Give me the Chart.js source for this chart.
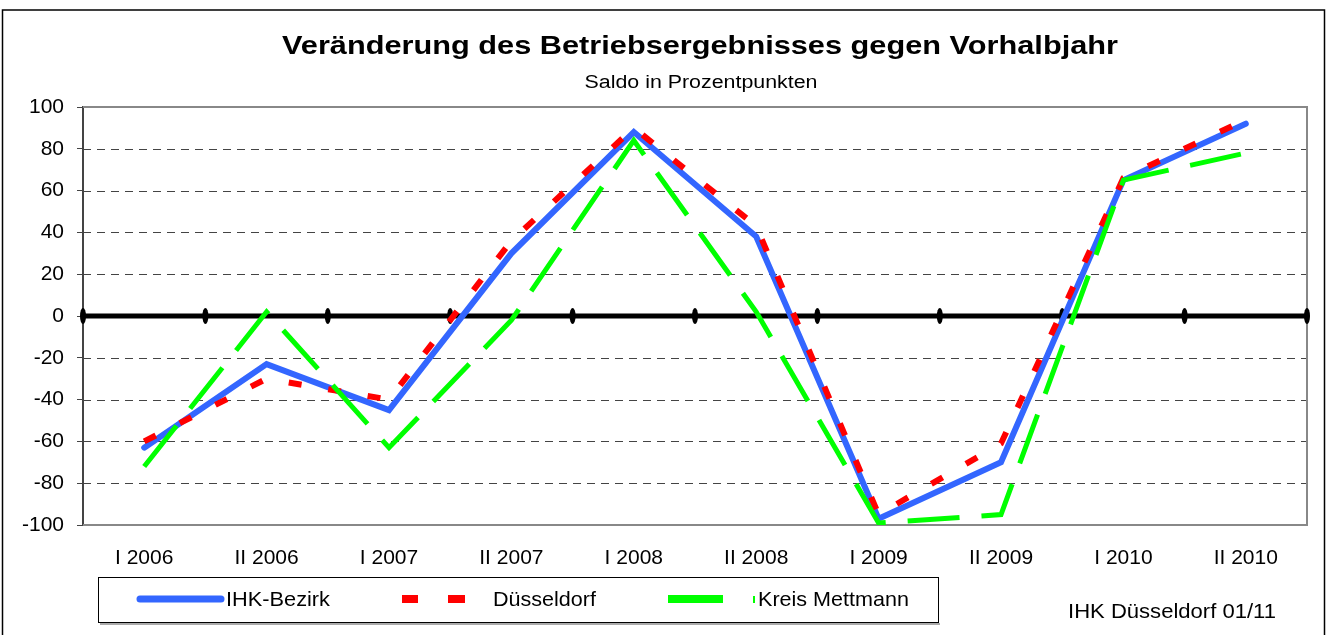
<!DOCTYPE html>
<html>
<head>
<meta charset="utf-8">
<script src="https://cdn.jsdelivr.net/npm/chart.js@4/dist/chart.umd.min.js"></script>
<style>
  body { margin: 0; background: #fff; }
  #wrap { width: 1329px; height: 635px; position: relative; }
</style>
</head>
<body>
<div id="wrap"><canvas id="chart" width="1329" height="635"></canvas></div>
<script>
const labels = ['I 2006', 'II 2006', 'I 2007', 'II 2007', 'I 2008', 'II 2008', 'I 2009', 'II 2009', 'I 2010', 'II 2010'];
const ihkBezirk = [-63, -23, -45, 30, 88, 38, -97, -70, 65, 92];
const duesseldorf = [-60, -30, -40, 36, 90, 43, -95, -61, 66, 94];
const kreisMettmann = [-72, 2, -63, -2, 84, 2, -99, -95, 65, 78];
const gridValues = [-80, -60, -40, -20, 20, 40, 60, 80];

const FONT = '"Liberation Sans", Arial, sans-serif';

// text stretched horizontally to a given width (the original font runs wider than Arial)
function wideText(ctx, text, x, y, font, width, align) {
    ctx.font = font;
    const w = ctx.measureText(text).width;
    const sx = width / w;
    const left = align === 'center' ? x - width / 2 : x;
    ctx.save();
    ctx.translate(left, y);
    ctx.scale(sx, 1);
    ctx.textAlign = 'left';
    ctx.textBaseline = 'middle';
    ctx.fillText(text, 0, 0);
    ctx.restore();
}

// draws frame, grid, zero axis, title, legend and footer
const decor = {
    id: 'decor',
    beforeDatasetsDraw(chart) {
        const { ctx, chartArea: a, scales: { y } } = chart;
        ctx.save();
        ctx.strokeStyle = '#444';
        ctx.lineWidth = 1;
        ctx.setLineDash([8, 6]);
        gridValues.forEach(v => {
            const py = Math.round(y.getPixelForValue(v)) + 0.5;
            ctx.beginPath();
            ctx.moveTo(a.left, py);
            ctx.lineTo(a.right, py);
            ctx.stroke();
        });
        ctx.setLineDash([]);
        ctx.strokeStyle = '#888';
        ctx.lineWidth = 2;
        ctx.beginPath();
        ctx.moveTo(a.left, a.top);
        ctx.lineTo(a.right, a.top);
        ctx.lineTo(a.right, a.bottom);
        ctx.lineTo(a.left, a.bottom);
        ctx.stroke();
        // zero axis with tick marks
        const y0 = y.getPixelForValue(0);
        ctx.strokeStyle = '#000';
        ctx.lineWidth = 5;
        ctx.beginPath();
        ctx.moveTo(a.left, y0);
        ctx.lineTo(a.right, y0);
        ctx.stroke();
        ctx.fillStyle = '#000';
        const step = (a.right - a.left) / labels.length;
        for (let i = 0; i <= labels.length; i++) {
            ctx.beginPath();
            ctx.ellipse(a.left + i * step, y0, 3, 8, 0, 0, Math.PI * 2);
            ctx.fill();
        }
        ctx.restore();
    },
    afterDraw(chart) {
        const { ctx } = chart;
        ctx.save();
        ctx.strokeStyle = '#000';
        ctx.lineWidth = 1.5;
        ctx.strokeRect(2.5, 10, 1322, 640);

        ctx.fillStyle = '#000';
        wideText(ctx, 'Veränderung des Betriebsergebnisses gegen Vorhalbjahr', 700, 47, 'bold 26px ' + FONT, 836, 'center');
        wideText(ctx, 'Saldo in Prozentpunkten', 701, 83, '18px ' + FONT, 233, 'center');

        // legend box
        ctx.fillStyle = '#aaa';
        ctx.fillRect(100, 623, 840, 2);
        ctx.strokeStyle = '#000';
        ctx.lineWidth = 1;
        ctx.fillStyle = '#fff';
        ctx.fillRect(98.5, 577.5, 840, 45);
        ctx.strokeRect(98.5, 577.5, 840, 45);

        const ly = 599;
        ctx.lineCap = 'round';
        ctx.strokeStyle = '#3366ff';
        ctx.lineWidth = 7;
        ctx.beginPath();
        ctx.moveTo(140, ly);
        ctx.lineTo(221, ly);
        ctx.stroke();
        ctx.lineCap = 'butt';
        ctx.fillStyle = '#ff0000';
        ctx.fillRect(402, ly - 4, 16, 8);
        ctx.fillRect(448, ly - 4, 17, 8);
        ctx.fillStyle = '#00ff00';
        ctx.fillRect(668, ly - 4, 55, 8);
        ctx.fillRect(753, ly - 3, 2, 7);

        ctx.fillStyle = '#000';
        wideText(ctx, 'IHK-Bezirk', 226, ly + 1, '21px ' + FONT, 104, 'left');
        wideText(ctx, 'Düsseldorf', 493, ly + 1, '21px ' + FONT, 103, 'left');
        wideText(ctx, 'Kreis Mettmann', 758, ly + 1, '21px ' + FONT, 151, 'left');
        wideText(ctx, 'IHK Düsseldorf 01/11', 1068, 612, '21px ' + FONT, 208, 'left');
        ctx.restore();
    }
};

new Chart(document.getElementById('chart'), {
    type: 'line',
    data: {
        labels: labels,
        datasets: [{
            label: 'IHK-Bezirk',
            data: ihkBezirk,
            borderColor: '#3366ff',
            borderWidth: 6,
            borderCapStyle: 'round',
            pointRadius: 0,
            tension: 0,
            order: 3
        }, {
            label: 'Düsseldorf',
            data: duesseldorf,
            borderColor: '#ff0000',
            borderWidth: 6,
            borderDash: [13, 27],
            pointRadius: 0,
            tension: 0,
            order: 2
        }, {
            label: 'Kreis Mettmann',
            data: kreisMettmann,
            borderColor: '#00ff00',
            borderWidth: 5,
            borderDash: [52, 22],
            pointRadius: 0,
            tension: 0,
            order: 1
        }]
    },
    options: {
        responsive: false,
        animation: false,
        layout: { padding: { top: 107, left: 0, right: 22, bottom: 60 } },
        plugins: {
            legend: { display: false },
            tooltip: { enabled: false }
        },
        scales: {
            x: {
                offset: true,
                grid: { display: false, drawTicks: false },
                border: { display: false },
                ticks: { color: '#000', font: { family: FONT, size: 21 }, padding: 21, maxRotation: 0 },
                afterFit(scale) { scale.height = 50; }
            },
            y: {
                min: -100,
                max: 100,
                grid: { drawOnChartArea: false, tickLength: 6, color: '#444' },
                border: { display: true, color: '#444', width: 2 },
                ticks: { stepSize: 20, color: '#000', font: { family: FONT, size: 21 }, padding: 13 },
                afterFit(scale) { scale.width = 83; }
            }
        }
    },
    plugins: [decor]
});
</script>
</body>
</html>
